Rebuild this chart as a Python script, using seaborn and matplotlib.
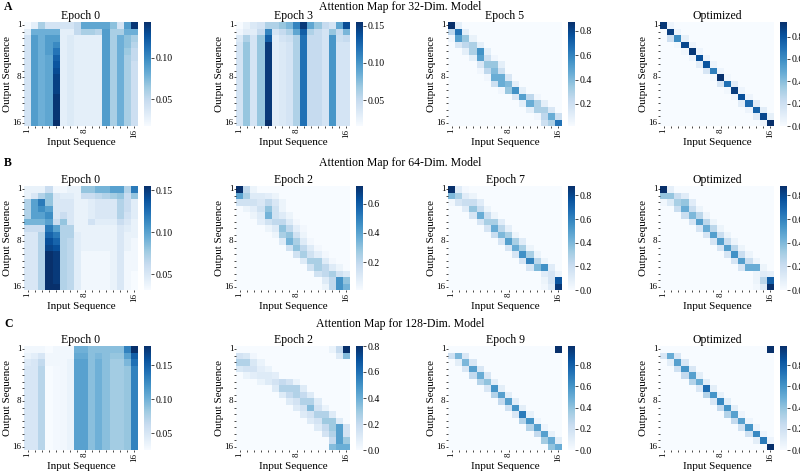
import numpy as np
import matplotlib.pyplot as plt
import seaborn as sns
from matplotlib.ticker import MultipleLocator

plt.rcParams['font.family'] = ['Liberation Serif', 'DejaVu Serif']

# values in percent (attention weight x 100)
A_E0 = [
    [1.8, 3, 6, 4, 4, 4, 4, 5, 8.5, 8.5, 8.5, 8.5, 7, 4, 9, 14],
    [3, 8, 8, 8, 8, 3, 3, 5, 6, 6, 5.5, 9, 6, 6, 8, 8],
    [4, 9, 8, 9, 9, 3, 3.5, 3, 3, 3, 3, 9, 6, 8, 7, 6],
    [4, 9, 8, 9, 10, 3, 3.5, 3, 3, 3, 3, 9, 6, 8, 7, 5.5],
    [4, 9, 8, 9, 11, 3, 3.5, 3, 3, 3, 3, 9, 6, 8, 6.5, 5],
    [4, 9, 8, 8.5, 12, 3, 3.5, 3, 3, 3, 3, 9, 6, 8, 6, 5],
    [4, 9, 8, 8.5, 12.5, 3, 3.5, 3, 3, 3, 3, 9, 6, 8, 6, 4.5],
    [4, 9, 8, 8.5, 13, 3, 3.5, 3, 3, 3, 3, 9, 6, 8, 6, 4.5],
    [4, 9, 8, 8.5, 13.5, 3, 3.5, 3, 3, 3, 3, 9, 6, 8, 6, 4.5],
    [4, 9, 8, 8.5, 13.5, 3, 3.5, 3, 3, 3, 3, 9, 6, 8, 6, 4.5],
    [4, 9, 8, 8.5, 13.5, 3, 3.5, 3, 3, 3, 3, 9, 6, 8, 6, 4.5],
    [4, 9, 8, 8.5, 14, 3, 3.5, 3, 3, 3, 3, 9, 6, 8, 6, 4.5],
    [4, 9, 8, 8.5, 14, 3, 3.5, 3, 3, 3, 3, 9, 6, 8, 6, 4.5],
    [4, 9, 8, 8.5, 14, 3, 3.5, 3, 3, 3, 3, 9, 6, 8, 6, 4.5],
    [4, 9, 8, 8.5, 14, 3, 3.5, 3, 3, 3, 3, 9, 6, 8, 6, 4.5],
    [4, 9, 8, 8.5, 14.3, 3, 3.5, 3, 3, 3, 3, 9, 6, 8, 6, 4.5],
]

A_E3 = [
    [1.5, 2.5, 3.5, 4, 6, 6, 7, 8, 11, 15, 9, 7, 5, 4, 9, 14],
    [2, 3, 3, 5, 11, 4, 5, 6, 9, 13, 6, 5, 4, 7, 5, 8],
    [3.5, 6, 4, 7, 13, 3, 4, 4.5, 6, 12, 5, 5, 4, 10, 4.5, 5],
    [4, 7, 4, 7, 15, 3, 3.5, 4, 6, 12, 5, 5, 4, 10, 4, 4],
    [4, 7, 4, 7, 15, 3, 3.5, 4, 6, 12, 5, 5, 4, 10, 4, 4],
    [4, 7, 4, 7, 15, 3, 3.5, 4, 6, 12, 5, 5, 4, 10, 4, 4],
    [4, 7, 4, 7, 15, 3, 3.5, 4, 6, 12, 5, 5, 4, 10, 4, 4],
    [4, 7, 4, 7, 15, 3, 3.5, 4, 6, 12, 5, 5, 4, 10, 4, 4],
    [4, 7, 4, 7, 15, 3, 3.5, 4, 6, 12, 5, 5, 4, 10, 4, 4],
    [4, 7, 4, 7, 15, 3, 3.5, 4, 6, 12, 5, 5, 4, 10, 4, 4],
    [4, 7, 4, 7, 15, 3, 3.5, 4, 6, 12, 5, 5, 4, 10, 4, 4],
    [4, 7, 4, 7, 15, 3, 3.5, 4, 6, 12, 5, 5, 4, 10, 4, 4],
    [4, 7, 4, 7, 15, 3, 3.5, 4, 6, 12, 5, 5, 4, 10, 4, 4],
    [4, 7, 4, 7, 15, 3, 3.5, 4, 6, 12, 5, 5, 4, 10, 4, 4],
    [4, 7, 4, 7, 15, 3, 3.5, 4, 6, 12, 5, 5, 4, 10, 4, 4],
    [4, 7, 4, 7, 15.5, 3, 3.5, 4, 6, 12, 5, 5, 4, 10, 4, 4],
]

B_E0 = [
    [4, 4, 4, 6, 3.5, 3.5, 4, 4, 8, 8, 9, 9, 10, 10, 7, 12],
    [4, 5, 7, 8, 5, 4.5, 4.5, 4, 6, 6, 6.5, 7, 7.5, 8, 6, 8],
    [7, 10, 12, 8, 5, 5, 5, 4, 4, 4.5, 5, 5, 5, 7, 6, 4.5],
    [7, 10, 11, 10, 5, 5, 5, 4, 4, 4.5, 5, 5, 5, 7, 6, 4.5],
    [7, 10, 10, 11, 5, 6, 5, 4, 4, 4.5, 5, 5, 5, 7, 5.5, 4.5],
    [9, 9, 9, 10, 6, 8, 5, 4, 4, 5.5, 4.5, 4.5, 4.5, 6, 5, 4],
    [6, 6, 6, 12, 10, 7, 7, 4, 4, 4, 4, 4, 4, 5, 4.5, 4],
    [5, 5, 7, 13, 12, 7, 7, 4.5, 4, 4, 4, 4, 4, 5, 4, 4],
    [5, 5, 7, 14, 13, 7, 6.5, 4.5, 4, 4, 4, 4, 4, 5, 4, 3.5],
    [5, 5, 7, 14.5, 14, 7, 6.5, 4.5, 4, 4, 4, 4, 4, 5, 4, 3.5],
    [5, 5, 7, 15.5, 15, 7, 6.5, 4.5, 3.5, 3.5, 3.5, 3.5, 4, 5, 3.5, 3.5],
    [5, 5, 7, 15.5, 15, 7, 6.5, 4.5, 3.5, 3.5, 3.5, 3.5, 4, 5, 3.5, 3.5],
    [5, 5, 7, 15.5, 15, 7, 6.5, 4.5, 3.5, 3.5, 3.5, 3.5, 4, 5, 3.5, 3.5],
    [5, 5, 7, 15.5, 15, 7, 6.5, 4.5, 3.5, 3.5, 3.5, 3.5, 4, 5, 3.5, 3.1],
    [5, 5, 7, 15.5, 15, 7, 6.5, 4.5, 3.5, 3.5, 3.5, 3.5, 4, 5, 3.5, 3.1],
    [5, 5, 7, 15.5, 15.5, 7, 6.5, 4.5, 3.5, 3.5, 3.5, 3.5, 4, 5, 3.5, 3.1],
]

C_E0 = [
    [3, 3, 3, 2.5, 3, 3, 3, 10, 10, 9, 9, 9, 9, 9, 13, 17.8],
    [3.5, 4, 5, 3, 3, 3, 3, 10.5, 10.5, 9, 9.5, 9, 8.5, 8.5, 11, 15],
    [4.5, 5, 6.5, 3, 3, 3, 3.5, 11, 11, 9, 10, 9, 8, 8, 9.5, 14],
    [5, 5, 7, 2.5, 2.8, 3, 3.5, 11, 11, 9, 10, 9, 8, 8, 8.5, 13],
    [5, 5, 7, 2.5, 2.8, 3, 3.5, 11, 11, 9, 10, 9, 8, 8, 8.5, 13],
    [5, 5, 7, 2.5, 2.8, 3, 3.5, 11, 11, 9, 10, 9, 8, 8, 8.5, 13],
    [5, 5, 7, 2.5, 2.8, 3, 3.5, 11, 11, 9, 10, 9, 8, 8, 8.5, 13],
    [5, 5, 7, 2.5, 2.8, 3, 3.5, 11, 11, 9, 10, 9, 8, 8, 8.5, 13],
    [5, 5, 7, 2.5, 2.8, 3, 3.5, 11, 11, 9, 10, 9, 8, 8, 8.5, 13],
    [5, 5, 7, 2.5, 2.8, 3, 3.5, 11, 11, 9, 10, 9, 8, 8, 8.5, 13],
    [5, 5, 7, 2.5, 2.8, 3, 3.5, 11, 11, 9, 10, 9, 8, 8, 8.5, 13],
    [5, 5, 7, 2.5, 2.8, 3, 3.5, 11, 11, 9, 10, 9, 8, 8, 8.5, 13],
    [5, 5, 7, 2.5, 2.8, 3, 3.5, 11, 11, 9, 10, 9, 8, 8, 8.5, 13],
    [5, 5, 7, 2.5, 2.8, 3, 3.5, 11, 11, 9, 10, 9, 8, 8, 8.5, 13],
    [5, 5, 7, 2.5, 2.8, 3, 3.5, 11, 11, 9, 10, 9, 8, 8, 8.5, 13],
    [5, 5, 7, 2.5, 2.8, 3, 3.5, 11, 11, 9, 10, 9, 8, 8, 8.5, 13],
]

# near-diagonal maps: (row, first column, values); other cells hold the background value
A_E5 = [
    (0, 0, [87, 10]), (1, 0, [25, 65, 10]), (2, 0, [5, 50, 35, 8]),
    (3, 1, [15, 25, 30, 10]), (4, 2, [10, 30, 55, 10]), (5, 3, [10, 50, 20, 5]),
    (6, 4, [15, 35, 35, 10]), (7, 4, [5, 25, 40, 20]), (8, 5, [5, 45, 45, 15]),
    (9, 6, [20, 45, 40, 10]), (10, 7, [5, 35, 55, 10]), (11, 9, [15, 50, 25, 5]),
    (12, 10, [10, 45, 30, 10]), (13, 11, [10, 30, 30, 15]), (14, 12, [5, 25, 45, 20]),
    (15, 13, [20, 30, 65]),
]
A_OPT = [
    (0, 0, [90, 5]), (1, 1, [88, 5]), (2, 1, [20, 60, 8]), (3, 2, [3, 85, 5]),
    (4, 3, [3, 90, 5]), (5, 4, [5, 82, 5]), (6, 5, [10, 80, 5]), (7, 6, [15, 65, 5]),
    (8, 7, [3, 92, 3]), (9, 8, [15, 70, 10]), (10, 9, [3, 88, 5]), (11, 10, [5, 82, 5]),
    (12, 11, [10, 72, 10]), (13, 12, [5, 75, 10]), (14, 13, [10, 85, 8]), (15, 14, [5, 93]),
]
B_E2 = [
    (0, 0, [72, 20, 5]), (1, 0, [40, 25, 10, 10, 8, 5]), (2, 0, [15, 15, 15, 12, 20, 12, 5]),
    (3, 1, [5, 8, 15, 30, 15, 5]), (4, 2, [5, 10, 35, 15, 10, 5]), (5, 3, [8, 15, 20, 20, 10, 3]),
    (6, 4, [5, 10, 30, 20, 8, 3]), (7, 5, [5, 25, 30, 15, 5]), (8, 6, [10, 35, 25, 10, 3]),
    (9, 7, [15, 30, 20, 10, 3]), (10, 8, [15, 25, 15, 8, 3]), (11, 9, [10, 25, 25, 10, 3]),
    (12, 10, [15, 25, 20, 10, 5]), (13, 11, [15, 20, 25, 15, 10]), (14, 12, [10, 20, 45, 30]),
    (15, 12, [5, 20, 45, 35]),
]
B_E7 = [
    (0, 0, [88, 10, 2]), (1, 0, [40, 30, 10, 5]), (2, 0, [3, 15, 20, 20, 10]),
    (3, 2, [10, 35, 20, 5]), (4, 3, [15, 45, 20, 5]), (5, 4, [15, 30, 30, 10]),
    (6, 5, [15, 45, 25, 8]), (7, 6, [20, 40, 30, 5]), (8, 7, [15, 50, 30, 10]),
    (9, 8, [15, 45, 30, 5]), (10, 9, [15, 55, 30, 5]), (11, 10, [15, 60, 25, 5]),
    (12, 11, [15, 40, 55, 10]), (13, 13, [10, 15, 5]), (14, 13, [5, 15, 75]),
    (15, 13, [3, 10, 85]),
]
B_OPT = [
    (0, 0, [88, 8]), (1, 0, [35, 35, 20, 10]), (2, 0, [3, 12, 30, 35, 10]),
    (3, 2, [20, 45, 20, 5]), (4, 3, [20, 40, 25, 5]), (5, 4, [15, 50, 25, 5]),
    (6, 5, [15, 45, 25, 5]), (7, 6, [15, 50, 20, 5]), (8, 7, [15, 50, 20, 5]),
    (9, 8, [15, 50, 25, 5]), (10, 9, [15, 55, 20, 5]), (11, 10, [15, 50, 20, 5]),
    (12, 11, [15, 45, 45, 5]), (13, 13, [5, 10, 8]), (14, 13, [5, 25, 72]),
    (15, 13, [3, 10, 88]),
]
C_E2 = [
    (0, 13, [5, 20, 80]), (1, 0, [15, 12, 3]), (1, 14, [10, 35]),
    (2, 0, [25, 25, 12, 5]), (3, 0, [12, 15, 15, 8, 5]), (4, 1, [5, 8, 10, 10, 8]),
    (5, 3, [5, 10, 15, 20, 15, 5]), (6, 5, [10, 25, 25, 25, 10]), (7, 6, [10, 20, 25, 20, 10]),
    (8, 7, [10, 15, 25, 25, 10]), (9, 8, [10, 15, 35, 15, 5]), (10, 9, [10, 15, 25, 25, 10]),
    (11, 10, [10, 15, 30, 30, 10]), (12, 11, [10, 20, 30, 45, 15]), (13, 12, [15, 25, 45, 15]),
    (14, 13, [20, 45, 30]), (15, 13, [35, 40, 40]),
]
C_E9 = [
    (0, 15, [98]), (1, 0, [20, 45, 15]), (2, 1, [10, 45, 15]), (3, 2, [15, 55, 15]),
    (4, 3, [25, 50, 15]), (5, 4, [30, 40, 10]), (6, 5, [15, 60, 10]), (7, 6, [30, 55, 10]),
    (8, 7, [25, 55, 10]), (9, 8, [20, 60, 10]), (10, 9, [15, 70, 8]), (11, 10, [30, 60, 5]),
    (12, 11, [30, 55, 5]), (13, 12, [25, 55, 8]), (14, 13, [35, 50, 10]), (15, 14, [40, 50]),
]
C_OPT = [
    (0, 15, [98]), (1, 0, [15, 50, 15]), (2, 1, [10, 55, 15]), (3, 2, [20, 60, 15]),
    (4, 3, [25, 55, 10]), (5, 4, [30, 50, 10]), (6, 5, [15, 75, 10]), (7, 6, [30, 60, 8]),
    (8, 7, [15, 65, 10]), (9, 8, [25, 60, 10]), (10, 9, [30, 55, 5]), (11, 10, [25, 55, 5]),
    (12, 11, [20, 60, 5]), (13, 12, [20, 65, 5]), (14, 13, [10, 70, 5]), (15, 15, [98]),
]

ROW_TITLES = ['Attention Map for 32-Dim. Model', 'Attention Map for 64-Dim. Model',
              'Attention Map for 128-Dim. Model']
ROW_LETTERS = ['A', 'B', 'C']
PANEL_TITLES = [['Epoch 0', 'Epoch 3', 'Epoch 5', 'Optimized'],
                ['Epoch 0', 'Epoch 2', 'Epoch 7', 'Optimized'],
                ['Epoch 0', 'Epoch 2', 'Epoch 9', 'Optimized']]
SEQ_LABELS = ['1', '', '', '', '', '', '', '', '8', '', '', '', '', '', '', '16']
CBAR_STEPS = [[0.05, 0.05, 0.2, 0.2], [0.05, 0.2, 0.2, 0.2], [0.05, 0.2, 0.2, 0.2]]


def band_matrix(cells, background):
    m = np.full((16, 16), background, dtype=float)
    for row, start, values in cells:
        m[row, start:start + len(values)] = values
    return m / 100


maps = [
    [np.array(A_E0) / 100, np.array(A_E3) / 100, band_matrix(A_E5, 2), band_matrix(A_OPT, 0)],
    [np.array(B_E0) / 100, band_matrix(B_E2, 1), band_matrix(B_E7, 0), band_matrix(B_OPT, 0)],
    [np.array(C_E0) / 100, band_matrix(C_E2, 0), band_matrix(C_E9, 0), band_matrix(C_OPT, 0)],
]

W, H = 800, 475
fig = plt.figure(figsize=(8, 4.75), dpi=100)


def px_axes(x, y, w, h):
    return fig.add_axes([x / W, 1 - (y + h) / H, w / W, h / H])


col_x = [24, 236, 448, 660]
row_y = [22, 186, 346]
title_y = [7, 163, 324]

for r in range(3):
    fig.text(0.5, 1 - title_y[r] / H, ROW_TITLES[r], ha='center', va='center', fontsize=8.5)
    fig.text(4 / W, 1 - title_y[r] / H, ROW_LETTERS[r], ha='left', va='center',
             fontsize=8.5, fontweight='bold')
    for c in range(4):
        ax = px_axes(col_x[c], row_y[r], 114, 104)
        cax = px_axes(col_x[c] + 120, row_y[r], 7, 104)
        sns.heatmap(maps[r][c], ax=ax, cbar_ax=cax, cmap='Blues',
                    xticklabels=SEQ_LABELS, yticklabels=SEQ_LABELS)
        ax.set_title(PANEL_TITLES[r][c], fontsize=8.5, pad=2)
        ax.set_xlabel('Input Sequence', fontsize=8, labelpad=0.5)
        ax.set_ylabel('Output Sequence', fontsize=8, labelpad=0.5)
        ax.tick_params(length=1.5, width=0.5, labelsize=6.5, pad=0.5)
        ax.tick_params(axis='x', labelrotation=90)
        ax.tick_params(axis='y', labelrotation=0)
        cax.yaxis.set_major_locator(MultipleLocator(CBAR_STEPS[r][c]))
        cax.tick_params(labelsize=7, length=2, width=0.5, pad=1)

fig.savefig('out.png', dpi=100)
